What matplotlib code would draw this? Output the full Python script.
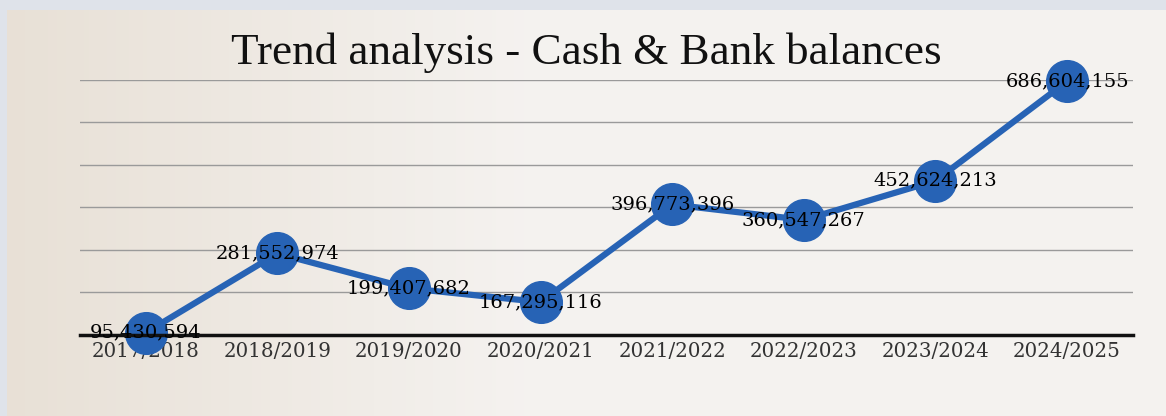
import matplotlib
matplotlib.use('Agg')
from matplotlib import pyplot as plt
import numpy as np

# data
years = ['2017/2018', '2018/2019', '2019/2020', '2020/2021',
         '2021/2022', '2022/2023', '2023/2024', '2024/2025']
balances = [95430594, 281552974, 199407682, 167295116,
            396773396, 360547267, 452624213, 686604155]
grid_lines = [90e6, 190e6, 290e6, 390e6, 490e6, 590e6, 690e6]

fig = plt.figure(figsize=(11.66, 4.16), dpi=100)
fig.patch.set_facecolor('#dfe3ea')

# paper background (beige on the left, lighter to the right)
bg = fig.add_axes([0.006, 0, 0.994, 0.976])
grad = np.linspace(0, 1, 256)
grad = np.minimum(grad / 0.45, 1.0)
c0 = np.array([0.91, 0.88, 0.84])
c1 = np.array([0.96, 0.95, 0.94])
img = c0[None, None, :] * (1 - grad[None, :, None]) + c1[None, None, :] * grad[None, :, None]
bg.imshow(img, aspect='auto', extent=[0, 1, 0, 1])
bg.axis('off')

ax = fig.add_axes([0.0686, 0.195, 0.903, 0.613])
ax.patch.set_alpha(0)
x = np.arange(len(years))
ax.plot(x, balances, color='#2763b5', lw=4.5, marker='o', ms=30,
        zorder=3, clip_on=False)

for xi, v in zip(x, balances):
    ax.text(xi, v, f'{v:,}', ha='center', va='center', fontsize=14,
            family='DejaVu Serif', color='#000000', zorder=5)

ax.set_xlim(-0.5, 7.5)
ax.set_ylim(grid_lines[0], grid_lines[-1])
ax.set_yticks(grid_lines)
ax.yaxis.grid(True, color='#9a9a9a', lw=1.0)
ax.set_axisbelow(True)
ax.tick_params(axis='y', left=False, labelleft=False)
ax.set_xticks(x)
ax.set_xticklabels(years, family='DejaVu Serif', fontsize=14.3, color='#333333')
ax.tick_params(axis='x', length=0, pad=5)
for s in ['top', 'right', 'left']:
    ax.spines[s].set_visible(False)
# axis line is drawn over the markers, as in the original
ax.spines['bottom'].set_linewidth(2.5)
ax.spines['bottom'].set_color('#111111')
ax.spines['bottom'].set_zorder(4)

fig.text(0.503, 0.872, 'Trend analysis - Cash & Bank balances', ha='center',
         va='center', fontsize=32.5, family='Liberation Serif', color='#111111')

fig.savefig('out.png', dpi=100, facecolor=fig.get_facecolor())
